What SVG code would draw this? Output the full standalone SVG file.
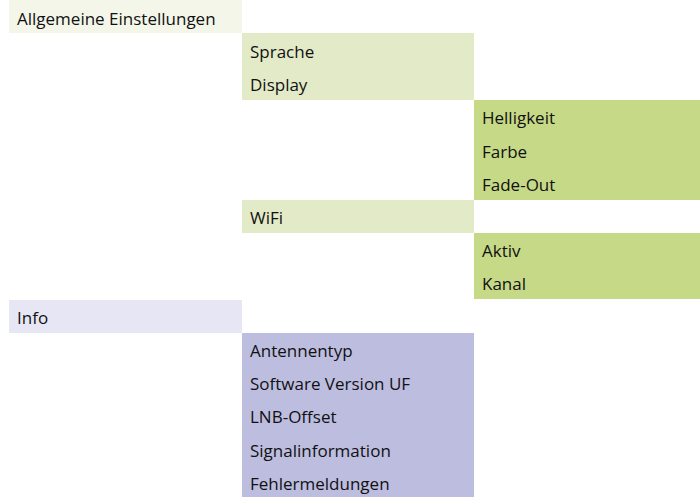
<svg xmlns="http://www.w3.org/2000/svg" width="700" height="497" viewBox="0 0 700 497">
<style>
text { font-family: "Open Sans", "Noto Sans", sans-serif; font-size: 17px; fill: #111111; }
.l0 { fill: #f4f6ea; }
.l1 { fill: #e3eac8; }
.l2 { fill: #c6d987; }
.i0 { fill: #e6e6f5; }
.i1 { fill: #bdbde0; }
</style>
<rect width="700" height="497" fill="#ffffff"/>
<g id="allgemeine">
<rect class="l0" x="9" y="0" width="233" height="33"/>
<text x="17" y="25">Allgemeine Einstellungen</text>
</g>
<g id="sprache-display">
<rect class="l1" x="242" y="33" width="232" height="67"/>
<text x="250" y="58">Sprache</text>
<text x="250" y="91">Display</text>
</g>
<g id="display-sub">
<rect class="l2" x="474" y="100" width="226" height="100"/>
<text x="482" y="124">Helligkeit</text>
<text x="482" y="158">Farbe</text>
<text x="482" y="191">Fade-Out</text>
</g>
<g id="wifi">
<rect class="l1" x="242" y="200" width="232" height="33"/>
<text x="250" y="224">WiFi</text>
</g>
<g id="wifi-sub">
<rect class="l2" x="474" y="233" width="226" height="66"/>
<text x="482" y="257">Aktiv</text>
<text x="482" y="290">Kanal</text>
</g>
<g id="info">
<rect class="i0" x="9" y="300" width="233" height="33"/>
<text x="17" y="324">Info</text>
</g>
<g id="info-sub">
<rect class="i1" x="242" y="333" width="232" height="164"/>
<text x="250" y="357">Antennentyp</text>
<text x="250" y="390">Software Version UF</text>
<text x="250" y="423">LNB-Offset</text>
<text x="250" y="457">Signalinformation</text>
<text x="250" y="490">Fehlermeldungen</text>
</g>
</svg>
